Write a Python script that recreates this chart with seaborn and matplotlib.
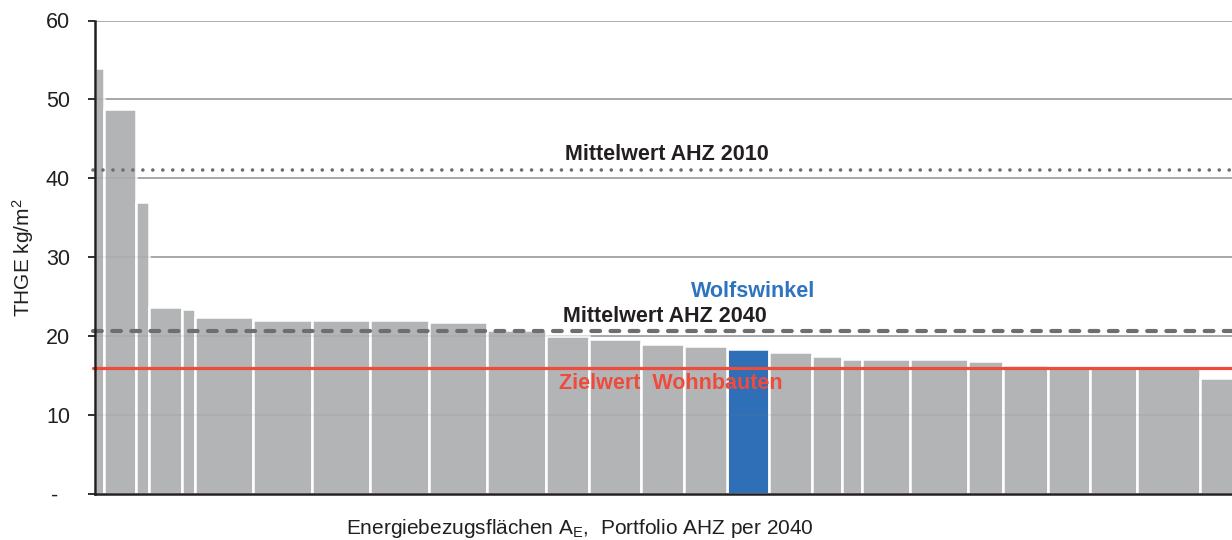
import numpy as np
import pandas as pd
import matplotlib
matplotlib.use("Agg")
import matplotlib.pyplot as plt
import seaborn as sns

# ---------------- data ----------------
flaechen = [8.5, 32.4, 13.3, 32.3, 13.0, 58.7, 58.3, 58.7, 58.5, 58.6, 58.3,
            43.7, 51.4, 43.3, 43.2, 41.5, 43.3, 30.0, 19.5, 48.0, 58.5, 34.7,
            45.3, 41.5, 47.7, 62.5, 60.0]
thge = [54.0, 48.75, 37.0, 23.7, 23.4, 22.35, 22.05, 22.05, 22.05, 21.75, 20.8,
        19.95, 19.65, 19.0, 18.75, 18.35, 17.95, 17.4, 17.1, 17.1, 17.1, 16.85,
        16.25, 16.2, 15.95, 15.95, 14.65]
gruppe = ["Portfolio"] * 15 + ["Wolfswinkel"] + ["Portfolio"] * 11
mittel_2010 = 41.0
mittel_2040 = 20.6
zielwert = 15.9
yticks = [0, 10, 20, 30, 40, 50, 60]
yticklabels = ["-  ", "10", "20", "30", "40", "50", "60"]

# ---------------- styling ----------------
sns.set_theme(style="white")
plt.rcParams["font.family"] = ["Liberation Sans", "DejaVu Sans"]
plt.rcParams["mathtext.fontset"] = "custom"
plt.rcParams["mathtext.rm"] = "Liberation Sans"
plt.rcParams["mathtext.it"] = "Liberation Sans:italic"
plt.rcParams["mathtext.bf"] = "Liberation Sans:bold"

GRAY = "#b3b4b6"
BLUE = "#2e6fb7"
RED = "#ef4b3d"
LINE = "#6d6e71"
DARK = "#231f20"

W, H = 1232, 540
fig = plt.figure(figsize=(W / 100, H / 100), dpi=100)
ax = fig.add_axes([95 / W, (H - 493.5) / H, 1 - 95 / W, (493.5 - 20.5) / H])

edges = [0.0] + list(np.cumsum(flaechen))
mitte = [(a + b) / 2 for a, b in zip(edges[:-1], edges[1:])]
df = pd.DataFrame({"mitte": mitte, "thge": thge, "gruppe": gruppe})

sns.histplot(data=df, x="mitte", weights="thge", bins=[float(e) for e in edges],
             hue="gruppe", hue_order=["Portfolio", "Wolfswinkel"],
             palette={"Portfolio": GRAY, "Wolfswinkel": BLUE},
             multiple="layer", alpha=1, edgecolor="white", linewidth=1.8,
             legend=False, ax=ax, zorder=2)

# axes limits / grid
x_right = 1232 - 95
ax.set_xlim(0, x_right)
ax.set_ylim(0, 60)
ax.set_axisbelow(True)
ax.yaxis.grid(True, color="#9d9fa2", linewidth=1.2)
ax.xaxis.grid(False)
for v in yticks[1:-1]:
    ax.axhline(v, color="#808285", alpha=0.15, linewidth=1.2, zorder=3)

# reference lines
ax.axhline(mittel_2010, xmin=-0.002, color=LINE, linewidth=2.6,
           linestyle=(0, (0.01, 2.75)), dash_capstyle="round", clip_on=False, zorder=4)
ax.axhline(mittel_2040, xmin=-0.002, color=LINE, linewidth=3.0,
           linestyle=(0, (2.1, 2.5)), dash_capstyle="round", clip_on=False, zorder=4)
ax.axhline(zielwert, xmin=-0.002, color=RED, linewidth=2.3, clip_on=False, zorder=4)

# annotations
ax.text(572, 42.25, "Mittelwert AHZ 2010", ha="center", va="baseline",
        fontsize=15.5, fontweight="bold", color=DARK)
ax.text(570, 21.75, "Mittelwert AHZ 2040", ha="center", va="baseline",
        fontsize=15.5, fontweight="bold", color=DARK)
ax.text(658, 24.9, "Wolfswinkel", ha="center", va="baseline",
        fontsize=15.5, fontweight="bold", color="#2e74bf")
ax.text(576, 13.3, "Zielwert  Wohnbauten", ha="center", va="baseline",
        fontsize=15.5, fontweight="bold", color=RED)

# ticks and spines
ax.set_yticks(yticks)
ax.set_yticklabels(yticklabels)
ax.set_xticks([])
ax.tick_params(axis="y", which="major", direction="out", length=5, width=1.3,
               color=DARK, pad=13, labelsize=15.5, labelcolor=DARK, left=True)
for s in ["top", "right"]:
    ax.spines[s].set_visible(False)
for s in ["left", "bottom"]:
    ax.spines[s].set_color(DARK)
    ax.spines[s].set_linewidth(1.8)
    ax.spines[s].set_zorder(5)
ax.set_xlabel("")
ax.set_ylabel("")

fig.text(23 / W, (H - 258) / H, "THGE kg/m$^\\mathregular{2}$", rotation=90,
         ha="center", va="center", fontsize=15, color=DARK)
fig.text(580 / W, (H - 533.5) / H,
         "Energiebezugsflächen A$_\\mathregular{E}$,  Portfolio AHZ per 2040",
         ha="center", va="baseline", fontsize=15, color=DARK)

fig.savefig("out.png", dpi=100)
